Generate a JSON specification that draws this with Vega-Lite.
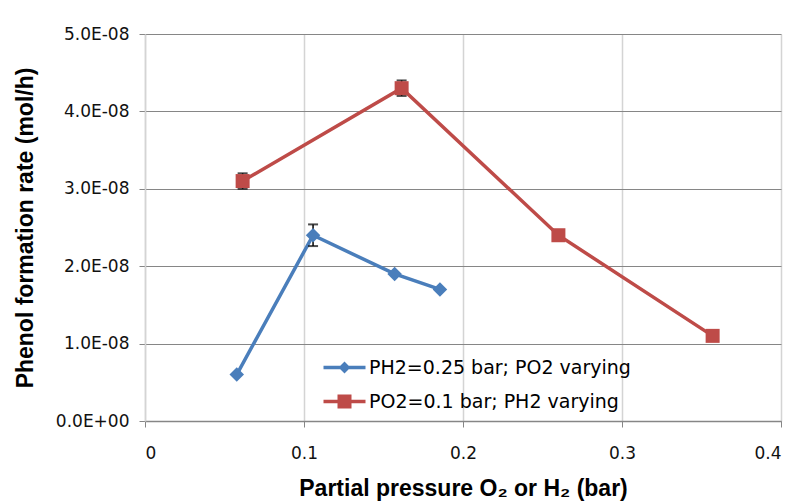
{
  "$schema": "https://vega.github.io/schema/vega-lite/v6.json",
  "width": 636,
  "height": 387,
  "autosize": {"type": "none"},
  "padding": {"left": 145, "top": 34, "right": 18, "bottom": 82},
  "background": "white",
  "config": {
    "view": {"stroke": null},
    "axis": {
      "labelFont": "DejaVu Sans",
      "labelFontSize": 17,
      "labelColor": "#111111",
      "titleFont": "Liberation Sans",
      "titleFontSize": 23,
      "titleFontWeight": "bold",
      "titleColor": "#000000",
      "tickSize": 6
    }
  },
  "data": {
    "values": [
      {"series": "PH2=0.25 bar; PO2 varying", "x": 0.0577, "y": 0.6e-8, "err": 0},
      {"series": "PH2=0.25 bar; PO2 varying", "x": 0.1057, "y": 2.4e-8, "err": 0.14e-8},
      {"series": "PH2=0.25 bar; PO2 varying", "x": 0.157, "y": 1.9e-8, "err": 0},
      {"series": "PH2=0.25 bar; PO2 varying", "x": 0.1855, "y": 1.7e-8, "err": 0},
      {"series": "PO2=0.1 bar; PH2 varying", "x": 0.0614, "y": 3.1e-8, "err": 0.1e-8},
      {"series": "PO2=0.1 bar; PH2 varying", "x": 0.1614, "y": 4.3e-8, "err": 0.1e-8},
      {"series": "PO2=0.1 bar; PH2 varying", "x": 0.26, "y": 2.4e-8, "err": 0},
      {"series": "PO2=0.1 bar; PH2 varying", "x": 0.357, "y": 1.1e-8, "err": 0}
    ]
  },
  "encoding": {
    "x": {
      "field": "x",
      "type": "quantitative",
      "scale": {"domain": [0, 0.4], "nice": false, "zero": false},
      "axis": {
        "title": "Partial pressure O₂ or H₂ (bar)",
        "values": [0, 0.1, 0.2, 0.3, 0.4],
        "labelExpr": "datum.value == 0 ? '0' : format(datum.value, '.1f')",
        "grid": true,
        "gridColor": "#d4d4d4",
        "gridWidth": 1.5,
        "domainColor": "#868686",
        "domainWidth": 1.5,
        "tickColor": "#868686",
        "labelPadding": 18,
        "titlePadding": 16
      }
    },
    "y": {
      "field": "y",
      "type": "quantitative",
      "scale": {"domain": [0, 5e-8], "nice": false},
      "axis": {
        "title": "Phenol formation rate (mol/h)",
        "values": [0, 1e-8, 2e-8, 3e-8, 4e-8, 5e-8],
        "labelExpr": "datum.value == 0 ? '0.0E+00' : format(datum.value * 1e8, '.1f') + 'E-08'",
        "grid": true,
        "gridColor": "#868686",
        "gridWidth": 1.2,
        "domainColor": "#d4d4d4",
        "domainWidth": 1.5,
        "tickColor": "#868686",
        "labelPadding": 10,
        "titlePadding": 18
      }
    }
  },
  "layer": [
    {
      "mark": {"type": "line", "strokeWidth": 3.5},
      "encoding": {
        "color": {
          "field": "series",
          "type": "nominal",
          "scale": {"domain": ["PH2=0.25 bar; PO2 varying", "PO2=0.1 bar; PH2 varying"], "range": ["#4a7ebb", "#be4b48"]},
          "legend": {
            "orient": "none",
            "legendX": 190,
            "legendY": 324,
            "title": null,
            "padding": 0,
            "labelFont": "DejaVu Sans",
            "labelFontSize": 19,
            "labelColor": "#000000",
            "labelLimit": 0,
            "symbolSize": 196,
            "labelOffset": 15,
            "rowPadding": 14,
            "encode": {
              "symbols": {
                "update": {
                  "shape": {"signal": "datum.value === 'PH2=0.25 bar; PO2 varying' ? 'M-3,-0.25H3V0.25H-3Z M0,-0.85L0.85,0L0,0.85L-0.85,0Z' : 'M-3,-0.25H3V0.25H-3Z M-1,-1H1V1H-1Z'"},
                  "fill": {"signal": "scale('color', datum.value)"},
                  "fillOpacity": {"value": 1},
                  "strokeWidth": {"value": 0}
                }
              }
            }
          }
        }
      }
    },
    {
      "transform": [{"filter": "datum.err > 0"}],
      "mark": {"type": "errorbar", "ticks": {"size": 10, "color": "#000000", "thickness": 2}, "rule": {"color": "#000000", "strokeWidth": 1.5}},
      "encoding": {
        "y": {"field": "y", "type": "quantitative"},
        "yError": {"field": "err"}
      }
    },
    {
      "transform": [{"filter": "datum.series === 'PH2=0.25 bar; PO2 varying'"}],
      "mark": {"type": "point", "filled": true, "opacity": 1, "shape": "diamond", "size": 210},
      "encoding": {
        "color": {"field": "series", "type": "nominal"}
      }
    },
    {
      "transform": [{"filter": "datum.series === 'PO2=0.1 bar; PH2 varying'"}],
      "mark": {"type": "point", "filled": true, "opacity": 1, "shape": "square", "size": 196},
      "encoding": {
        "color": {"field": "series", "type": "nominal"}
      }
    }
  ]
}
